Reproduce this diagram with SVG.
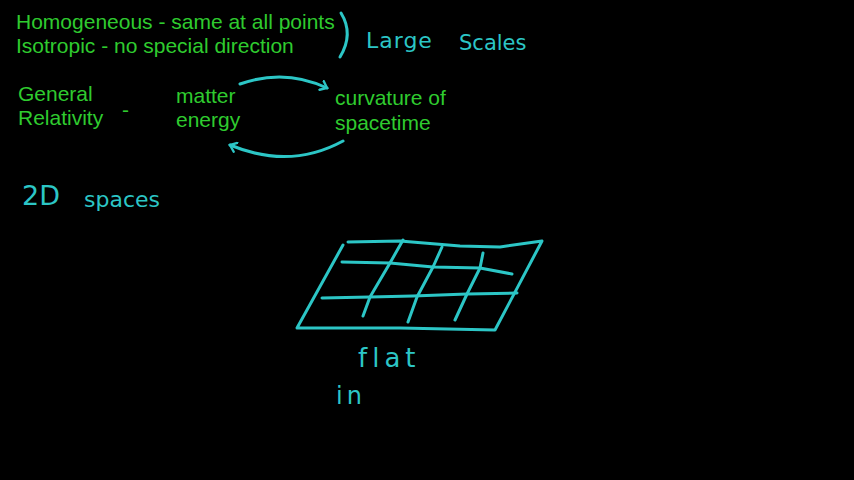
<svg xmlns="http://www.w3.org/2000/svg" width="854" height="480" viewBox="0 0 854 480">
<style>
.t{font-family:"Liberation Sans",Arial,sans-serif;font-size:21px;fill:#2fcb2f}
.h{font-family:"DejaVu Sans","Liberation Sans",sans-serif;fill:#2cc6c6}
.s{fill:none;stroke:#2cc6c6;stroke-width:3;stroke-linecap:round;stroke-linejoin:round}
</style>
<defs>
<marker id="ah" viewBox="0 0 10 10" refX="6" refY="5" markerWidth="4" markerHeight="4" orient="auto" markerUnits="strokeWidth">
<path d="M1,1 L6,5 L1,9" fill="none" stroke="#2cc6c6" stroke-width="2" stroke-linecap="round"/>
</marker>
</defs>
<rect width="854" height="480" fill="#000"/>
<g id="definitions">
<text class="t" x="16" y="29">Homogeneous - same at all points</text>
<text class="t" x="16" y="53">Isotropic - no special direction</text>
<path class="s" d="M341,13 Q354,34 340,57"/>
<text class="h" x="366" y="48" font-size="22" letter-spacing="1">Large</text>
<text class="h" x="459" y="50" font-size="21">Scales</text>
</g>
<g id="gr">
<text class="t" x="18" y="101">General</text>
<text class="t" x="18" y="125">Relativity</text>
<text class="t" x="122" y="117">-</text>
</g>
<g id="matter">
<text class="t" x="176" y="103">matter</text>
<text class="t" x="176" y="127">energy</text>
</g>
<g id="curvature">
<text class="t" x="335" y="105">curvature of</text>
<text class="t" x="335" y="130">spacetime</text>
</g>
<g id="connectors">
<path class="s" d="M240,84 Q285,68 327,88" marker-end="url(#ah)"/>
<path class="s" d="M343,141 Q290,170 230,145" marker-end="url(#ah)"/>
</g>
<g id="spaces">
<text class="h" x="22" y="205" font-size="27">2D</text>
<text class="h" x="84" y="207" font-size="22">spaces</text>
</g>
<g id="grid">
<path class="s" d="M348,242 L400,241 L460,246 L500,247 L542,241 L495,330 L400,328 L297,328 L343,245"/>
<path class="s" d="M342,262 L390,263 L433,267 L480,268 L512,274"/>
<path class="s" d="M322,298 L370,297 L413,296 L467,294 L517,293"/>
<path class="s" d="M403,240 L390,263 L370,297 L363,316"/>
<path class="s" d="M442,247 L433,267 L417,297 L408,322"/>
<path class="s" d="M483,253 L480,268 L467,294 L455,320"/>
</g>
<g id="flat">
<text class="h" x="358" y="367" font-size="26" letter-spacing="5">flat</text>
<text class="h" x="336" y="404" font-size="24" letter-spacing="4">in</text>
</g>
</svg>
